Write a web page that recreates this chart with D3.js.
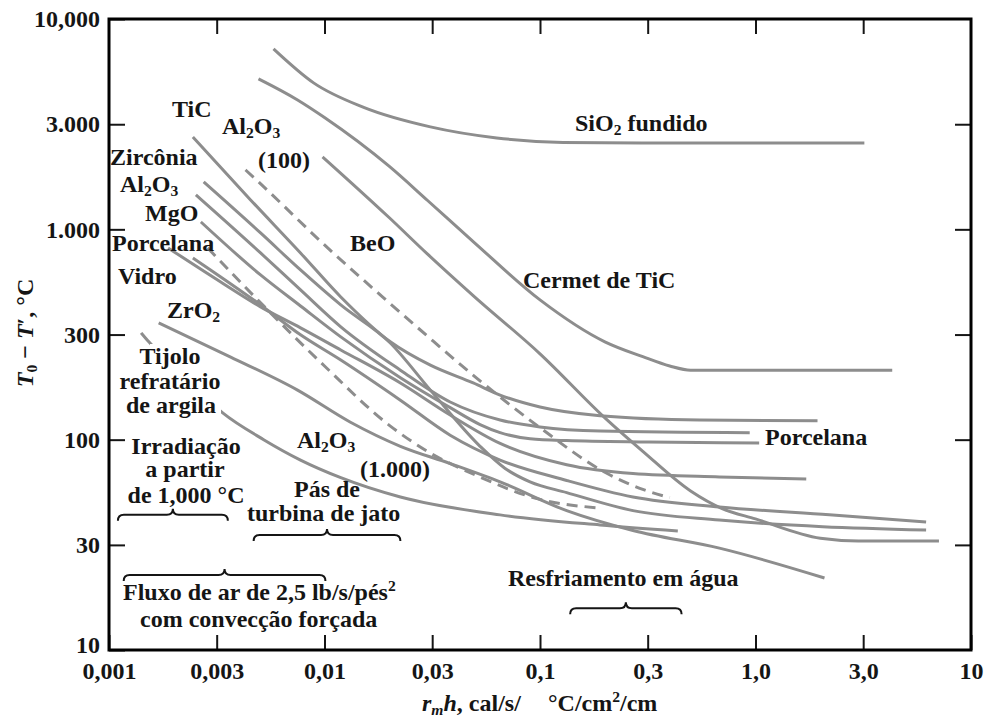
<!DOCTYPE html>
<html><head><meta charset="utf-8">
<script src="https://cdn.jsdelivr.net/npm/d3@7"></script>
<style>body{margin:0;background:#fff}</style>
</head><body>
<svg id="chart" width="989" height="722"></svg>
<script>
// ---------- tick values / labels ----------
const xTickValues = [0.001, 0.00316, 0.01, 0.0316, 0.1, 0.316, 1, 3.16, 10];
const xTickLabels = ["0,001", "0,003", "0,01", "0,03", "0,1", "0,3", "1,0", "3,0", "10"];
const yTickValues = [10, 31.6, 100, 316, 1000, 3160, 10000];
const yTickLabels = ["10", "30", "100", "300", "1.000", "3.000", "10,000"];

// ---------- series: [r_m h, T0 - T'] ----------
const sio2Fundido = [[0.0058,7210],[0.0089,4970],[0.0152,3800],[0.031,3070],[0.063,2720],[0.128,2590],[0.36,2570],[3.2,2570]];
const cermetTiC = [[0.00494,5190],[0.0075,4120],[0.01,3400],[0.02,1990],[0.03,1375],[0.05,858],[0.1,462],[0.2,292],[0.3,248],[0.4,224],[0.5,214],[4.31,214]];
const beo = [[0.0098,2210],[0.02,1135],[0.03,764],[0.05,475],[0.1,256],[0.2,127],[0.3,88],[0.5,57],[0.7,47],[1,42],[2,34],[3,33],[7.1,33]];
const al2o3_100 = [[0.0043,1916],[0.005,1662],[0.01,843],[0.02,447],[0.03,311],[0.05,199],[0.1,114],[0.2,70],[0.3,58],[0.4,53]];
const tic = [[0.00245,2750],[0.00454,1380],[0.00774,772],[0.0119,477],[0.0202,292],[0.031,226],[0.049,186],[0.0653,163],[0.1,143],[0.19,130],[0.55,124],[1.94,123]];
const zirconia = [[0.00275,1680],[0.00505,961],[0.00774,641],[0.0119,437],[0.0202,288],[0.031,172],[0.0527,93],[0.0689,73],[0.0899,63],[0.133,56],[0.27,46],[0.68,41.5],[6.19,37.2]];
const al2o3 = [[0.00253,1458],[0.00505,772],[0.00774,515],[0.0119,344],[0.0225,214],[0.0383,151],[0.0653,124],[0.1,115],[0.19,110],[0.94,108]];
const mgo = [[0.00267,1084],[0.00505,607],[0.00774,432],[0.0119,308],[0.0225,197],[0.0383,142],[0.0527,118],[0.0653,108],[0.09,101],[0.133,99],[0.32,97.5],[1.04,96.4]];
const porcelana = [[0.00188,816],[0.0033,562],[0.00505,428],[0.00774,340],[0.0119,267],[0.0225,186],[0.0383,131],[0.0653,96],[0.133,76],[0.27,69],[0.68,66.5],[1.72,65]];
const vidro = [[0.00245,731],[0.00505,437],[0.00774,315],[0.0119,239],[0.0225,154],[0.0383,105],[0.0653,80],[0.133,64],[0.27,53.4],[0.68,47.9],[2.2,43.9],[6.19,40.6]];
const al2o3_1000 = [[0.00287,816],[0.005,452],[0.01,224],[0.02,117],[0.03,88],[0.05,68],[0.1,52],[0.19,47.3]];
const zro2 = [[0.0017,359],[0.00367,247],[0.0075,172],[0.0132,121],[0.0225,93],[0.0383,77],[0.0653,63],[0.133,46],[0.27,37],[0.68,30.5],[2.09,22]];
const tijolo = [[0.00141,322],[0.00153,292],[0.00227,197],[0.00337,134],[0.00522,100],[0.00774,80],[0.0119,66],[0.0225,53.4],[0.0653,43.9],[0.19,39.3],[0.436,36.8]];

const seriesList = [
  {name:"SiO2 fundido", data:sio2Fundido, dashed:false},
  {name:"Cermet de TiC", data:cermetTiC, dashed:false},
  {name:"BeO", data:beo, dashed:false},
  {name:"Al2O3 (100)", data:al2o3_100, dashed:true},
  {name:"TiC", data:tic, dashed:false},
  {name:"Zircônia", data:zirconia, dashed:false},
  {name:"Al2O3", data:al2o3, dashed:false},
  {name:"MgO", data:mgo, dashed:false},
  {name:"Porcelana", data:porcelana, dashed:false},
  {name:"Vidro", data:vidro, dashed:false},
  {name:"Al2O3 (1.000)", data:al2o3_1000, dashed:true},
  {name:"ZrO2", data:zro2, dashed:false},
  {name:"Tijolo refratário de argila", data:tijolo, dashed:false, masked:true}
];

// braces: [x start, x end, level]
const braceIrradiacao = [0.0011, 0.00356, 43.9];
const bracePas = [0.00469, 0.0225, 35.2];
const braceFluxo = [0.00117, 0.0101, 22.7];
const braceAgua = [0.138, 0.454, 15.8];

// ---------- drawing ----------
const svg = d3.select("#chart");
const FONT = "'Liberation Serif','Times New Roman',serif";
const INK = "#151515";
const LINE = "#8d8d8d";

svg.append("rect").attr("width",989).attr("height",722).attr("fill","#fff");

const x = d3.scaleLog().domain([0.001, 10]).range([109, 971]);
const y = d3.scaleLog().domain([10, 10000]).range([650, 19]);

const defs = svg.append("defs");
const mask = defs.append("mask").attr("id","tijMask");
mask.append("rect").attr("x",0).attr("y",0).attr("width",989).attr("height",722).attr("fill","#fff");
mask.append("rect").attr("x",150).attr("y",344).attr("width",71).attr("height",70).attr("fill","#000");

const lineGen = d3.line().x(d=>x(d[0])).y(d=>y(d[1])).curve(d3.curveMonotoneX);

svg.append("g").selectAll("path").data(seriesList).join("path")
  .attr("d", d=>lineGen(d.data))
  .attr("fill","none")
  .attr("stroke", LINE)
  .attr("stroke-width", 3)
  .attr("stroke-linecap","butt")
  .attr("stroke-dasharray", d=>d.dashed ? "11,7" : null)
  .attr("mask", d=>d.masked ? "url(#tijMask)" : null);

// axes
function styleAxis(g){
  g.select(".domain").remove();
  g.selectAll(".tick line").attr("stroke", INK).attr("stroke-width", 2);
  g.attr("font-family", FONT).attr("font-size", 24).attr("font-weight","bold");
  g.selectAll(".tick text").attr("fill", INK);
}
svg.append("g").attr("transform","translate(0,650)")
  .call(d3.axisBottom(x).tickValues(xTickValues).tickSize(-15).tickPadding(12).tickFormat((d,i)=>xTickLabels[i]))
  .call(styleAxis);
svg.append("g").attr("transform","translate(0,19)")
  .call(d3.axisTop(x).tickValues(xTickValues.slice(1,-1)).tickSize(-15).tickFormat(""))
  .call(styleAxis);
const yAxisG = svg.append("g").attr("transform","translate(109,0)")
  .call(d3.axisLeft(y).tickValues(yTickValues).tickSize(-16).tickPadding(9).tickFormat((d,i)=>yTickLabels[i]))
  .call(styleAxis);
// lowest label sits slightly above its tick, as in the original
yAxisG.selectAll(".tick text").filter((d,i)=>i===0).attr("dy","0.1em");
svg.append("g").attr("transform","translate(971,0)")
  .call(d3.axisRight(y).tickValues(yTickValues.slice(1,-1)).tickSize(-16).tickFormat(""))
  .call(styleAxis);

// frame
svg.append("rect").attr("x",x(0.001)).attr("y",y(10000))
  .attr("width",x(10)-x(0.001)).attr("height",y(10)-y(10000))
  .attr("fill","none").attr("stroke","#000").attr("stroke-width",3);

// braces
function bracePath(b){
  const x0=x(b[0]), x1=x(b[1]), yy=y(b[2]), xm=(x0+x1)/2, h=6;
  return `M${x0},${yy+h} Q${x0},${yy} ${x0+h},${yy} L${xm-h},${yy} Q${xm},${yy} ${xm},${yy-h} Q${xm},${yy} ${xm+h},${yy} L${x1-h},${yy} Q${x1},${yy} ${x1},${yy+h}`;
}
svg.append("g").selectAll("path").data([braceIrradiacao, bracePas, braceFluxo, braceAgua]).join("path")
  .attr("d", bracePath).attr("fill","none").attr("stroke", INK).attr("stroke-width", 2);

// rich text helper
function rich(sel, parts){
  let shift = 0;
  parts.forEach(p=>{
    const o = (typeof p === "string") ? {t:p} : p;
    const target = o.sub ? 4 : (o.sup ? -9 : 0);
    const ts = sel.append("tspan").text(o.t).attr("dy", target - shift);
    shift = target;
    if (o.sub || o.sup) ts.attr("font-size", "0.65em");
    if (o.it) ts.attr("font-style","italic");
  });
}
const annotations = [
  {x:575, y:131, p:["SiO",{t:"2",sub:1}," fundido"]},
  {x:523, y:288, p:["Cermet de TiC"]},
  {x:350, y:251, p:["BeO"]},
  {x:222, y:134, p:["Al",{t:"2",sub:1},"O",{t:"3",sub:1}]},
  {x:258, y:168, p:["(100)"]},
  {x:172, y:117, p:["TiC"]},
  {x:110, y:165, p:["Zircônia"]},
  {x:120, y:192, p:["Al",{t:"2",sub:1},"O",{t:"3",sub:1}]},
  {x:145, y:221, p:["MgO"]},
  {x:112, y:251, p:["Porcelana"]},
  {x:118, y:284, p:["Vidro"]},
  {x:167, y:318, p:["ZrO",{t:"2",sub:1}]},
  {x:170, y:364, p:["Tijolo"], a:"middle"},
  {x:170, y:389, p:["refratário"], a:"middle"},
  {x:171, y:413, p:["de argila"], a:"middle"},
  {x:186, y:454, p:["Irradiação"], a:"middle"},
  {x:185, y:477, p:["a partir"], a:"middle"},
  {x:186, y:503, p:["de 1,000 °C"], a:"middle"},
  {x:297, y:448, p:["Al",{t:"2",sub:1},"O",{t:"3",sub:1}]},
  {x:360, y:477, p:["(1.000)"]},
  {x:294, y:497, p:["Pás de"]},
  {x:247, y:521, p:["turbina de jato"]},
  {x:123, y:600, p:["Fluxo de ar de 2,5 lb/s/pés",{t:"2",sup:1}]},
  {x:140, y:627, p:["com convecção forçada"]},
  {x:508, y:586, p:["Resfriamento em água"]},
  {x:765, y:445, p:["Porcelana"]}
];
const ag = svg.append("g").attr("font-family", FONT).attr("font-size", 24).attr("font-weight","bold").attr("fill", INK);
annotations.forEach(a=>{
  const t = ag.append("text").attr("x",a.x).attr("y",a.y).attr("text-anchor", a.a || "start");
  rich(t, a.p);
});

// axis titles
const xt1 = ag.append("text").attr("x",422).attr("y",711);
rich(xt1, [{t:"r",it:1},{t:"m",sub:1,it:1},{t:"h",it:1},", cal/s/"]);
const xt2 = ag.append("text").attr("x",548).attr("y",711);
rich(xt2, ["°C/cm",{t:"2",sup:1},"/cm"]);
const yt = ag.append("text").attr("transform","translate(33,333) rotate(-90)").attr("text-anchor","middle");
rich(yt, [{t:"T",it:1},{t:"0",sub:1}," − ",{t:"T",it:1},"′, °C"]);
</script>
</body></html>
